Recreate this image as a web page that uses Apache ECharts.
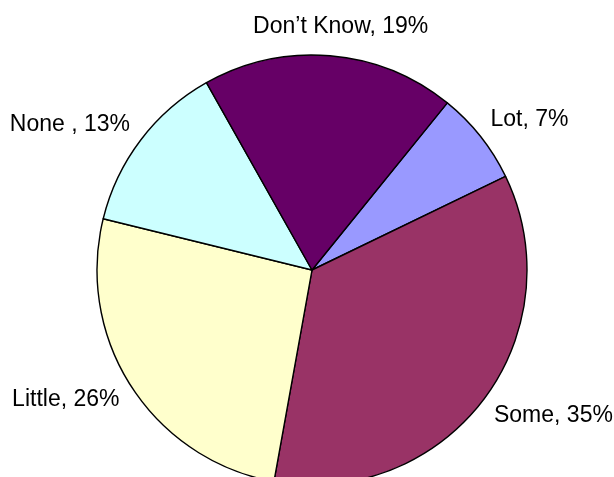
<!DOCTYPE html>
<html>
<head>
<meta charset="utf-8">
<script src="https://cdn.jsdelivr.net/npm/echarts@6/dist/echarts.min.js"></script>
<style>
  html, body { margin: 0; padding: 0; background: #ffffff; }
  #chart { width: 614px; height: 477px; }
</style>
</head>
<body>
<div id="chart"></div>
<script>
// Answers, in clockwise order starting from the upper right
const categories = ['Lot', 'Some', 'Little', 'None ', 'Don\u2019t Know'];
const shares = [7, 35, 26, 13, 19];
const sliceColors = ['#9999FF', '#993366', '#FFFFCC', '#CCFFFF', '#660066'];

const CX = 312, CY = 270, R = 215;
const START_ANGLE = 51;
const LABEL_GAP = 226;
const FONT_SIZE = 23;

const total = shares.reduce((a, b) => a + b, 0);

// Middle angle (degrees, counter-clockwise from +x) of each slice
function midAngle(i) {
  let before = 0;
  for (let k = 0; k < i; k++) before += shares[k];
  return START_ANGLE - (before + shares[i] / 2) / total * 360;
}

const chart = echarts.init(document.getElementById('chart'), null, { renderer: 'canvas' });

chart.setOption({
  backgroundColor: '#ffffff',
  animation: false,
  series: [{
    type: 'pie',
    center: [CX, CY],
    radius: R,
    startAngle: START_ANGLE,
    clockwise: true,
    avoidLabelOverlap: false,
    data: categories.map((name, i) => ({
      name: name,
      value: shares[i],
      itemStyle: { color: sliceColors[i] }
    })),
    itemStyle: { borderColor: '#000000', borderWidth: 1.4 },
    label: {
      show: true,
      position: 'outside',
      formatter: '{b}, {c}%',
      fontFamily: '"Liberation Sans", Arial, sans-serif',
      fontSize: FONT_SIZE,
      color: '#000000'
    },
    labelLine: { show: false },
    emphasis: { disabled: true },
    // Each label box sits just outside the rim, its nearest edge a fixed
    // distance from the centre along the slice's middle direction.
    labelLayout: function (params) {
      const a = midAngle(params.dataIndex) * Math.PI / 180;
      const c = Math.cos(a), s = Math.sin(a);
      const w = params.labelRect.width, h = FONT_SIZE;
      const along = LABEL_GAP + Math.abs(c) * w / 2 + Math.abs(s) * h / 2;
      const across = 1.3 * c * s * (h - w) / 2;
      const px = along * c - across * s;
      const py = along * s + across * c;
      return {
        x: CX + px,
        y: CY - py,
        align: 'center',
        verticalAlign: 'middle'
      };
    }
  }]
});
</script>
</body>
</html>
